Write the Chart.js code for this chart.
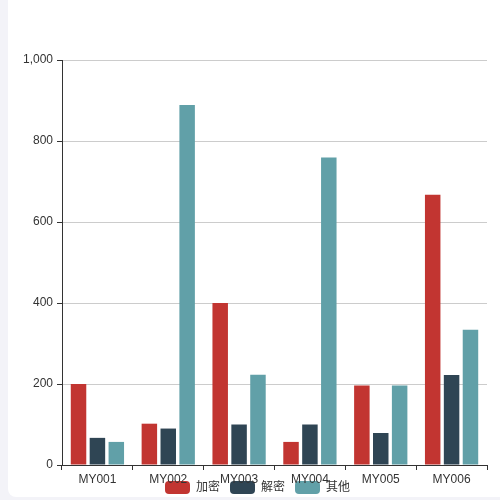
<!DOCTYPE html>
<html lang="zh">
<head>
    <meta charset="UTF-8">
    <title>加密 / 解密 统计</title>
    <script src="https://cdn.jsdelivr.net/npm/chart.js"></script>
    <style>
        html, body {
            margin: 0;
            width: 500px;
            height: 500px;
            overflow: hidden;
            background: #f3f3f8;
        }

        .card {
            position: absolute;
            left: 8px;
            top: -10px;
            width: 520px;
            height: 507px;
            background: #fff;
            border-radius: 8px;
        }

        .box {
            position: absolute;
            left: 8px;
            top: 0;
            width: 500px;
            height: 500px;
        }
    </style>
</head>
<body>
    <div class="card"></div>
    <div class="box"><canvas id="barChart" width="500" height="500"></canvas></div>
    <script>
        // categories and series
        const categories = ['MY001', 'MY002', 'MY003', 'MY004', 'MY005', 'MY006'];
        const seriesNames = ['加密', '解密', '其他'];
        const encrypt = [200, 102, 400, 57, 196, 667];
        const decrypt = [67, 90, 100, 100, 79, 222];
        const other = [57, 889, 223, 759, 196, 334];
        const colors = ['#c23531', '#2f4554', '#61a0a8'];

        const yMax = 1000;
        const yStep = 200;

        const font = { family: '"Liberation Sans", "Noto Sans CJK SC", sans-serif', size: 12 };

        // legend sits over the bottom of the x labels, like the original
        const legendShift = {
            id: 'legendShift',
            afterLayout(chart) {
                const lg = chart.legend;
                lg.top -= 16;
                lg.bottom -= 16;
                lg.left += 10;
                lg.right += 10;
            }
        };

        const ctx = document.getElementById('barChart').getContext('2d');

        new Chart(ctx, {
            type: 'bar',
            data: {
                labels: categories,
                datasets: [encrypt, decrypt, other].map((vals, i) => ({
                    label: seriesNames[i],
                    data: vals,
                    backgroundColor: colors[i],
                    categoryPercentage: 0.8,
                    barPercentage: 0.82
                }))
            },
            options: {
                responsive: false,
                animation: false,
                layout: { padding: { top: 60, right: 21, left: 0, bottom: -20 } },
                plugins: {
                    tooltip: { enabled: false },
                    legend: {
                        position: 'bottom',
                        labels: {
                            boxWidth: 25,
                            boxHeight: 13,
                            padding: 10,
                            useBorderRadius: true,
                            borderRadius: 4,
                            color: '#333',
                            font: font
                        }
                    }
                },
                scales: {
                    x: {
                        border: { color: '#333' },
                        grid: {
                            drawOnChartArea: false,
                            tickLength: 5,
                            tickColor: '#333'
                        },
                        ticks: { color: '#333', font: font, padding: 2 },
                        afterFit(scale) { scale.height = 22; }
                    },
                    y: {
                        min: 0,
                        max: yMax,
                        border: { color: '#333' },
                        grid: {
                            color: '#ccc',
                            tickLength: 5,
                            tickColor: '#333'
                        },
                        ticks: {
                            stepSize: yStep,
                            color: '#333',
                            font: font,
                            padding: 4,
                            callback: v => v.toLocaleString('en-US')
                        },
                        afterFit(scale) { scale.width = 54; }
                    }
                }
            },
            plugins: [legendShift]
        });
    </script>
</body>
</html>
